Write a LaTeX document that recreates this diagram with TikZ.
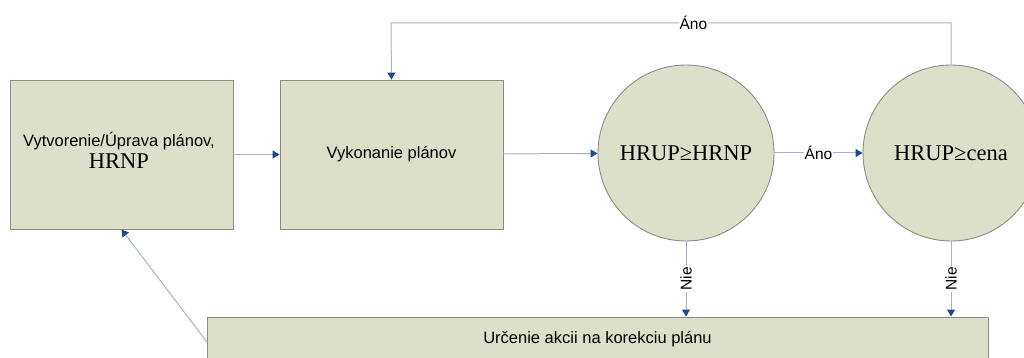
\documentclass[tikz,border=0pt]{standalone}
\usepackage{fontspec}
\setmainfont{Liberation Serif}
\setsansfont{Liberation Sans}
\usetikzlibrary{arrows.meta,positioning}
\definecolor{boxfill}{HTML}{DCE0CB}
\definecolor{boxline}{HTML}{8C8C84}
\definecolor{conn}{HTML}{A7B4C8}
\definecolor{tipblue}{HTML}{1F4A8A}
\tikzset{
  box/.style={draw=boxline, fill=boxfill, line width=0.9pt, inner sep=0pt, align=center},
  circ/.style={draw=boxline, fill=boxfill, line width=0.9pt, circle, inner sep=0pt, minimum size=176pt, font=\fontsize{22.5}{26}\selectfont},
  conn/.style={draw=conn, line width=1pt, -{Triangle[width=8pt,length=7pt,color=tipblue]}},
  lbl/.style={fill=white, inner sep=1pt, font=\sffamily\fontsize{15.5}{17}\selectfont},
  sans/.style={font=\sffamily\fontsize{16.5}{19}\selectfont},
}
\begin{document}
\begin{tikzpicture}[x=1pt,y=-1pt]
\useasboundingbox (0,0) rectangle (1024,358);
\node[box, minimum width=223pt, minimum height=149pt] (plan) at (121.5,154.5) {};
\node[sans, anchor=base] (plant1) at (119,147) {Vytvorenie/Úprava plánov,};
\node[font=\fontsize{22.5}{24}\selectfont, anchor=base] (plant2) at (119,168) {HRNP};
\node[box, sans, minimum width=223pt, minimum height=149pt] (exec) at (391.5,154.5) {Vykonanie plánov};
\node[circ] (c1) at (686,153) {HRUP≥HRNP};
\node[circ] (c2) at (951,153) {HRUP≥cena};
\node[box, sans, minimum width=781pt, minimum height=45pt] (corr) at (597.5,339.5) {Určenie akcii na korekciu plánu};
\coordinate (t1) at (951,23);
\coordinate (t2) at (391,23);
\draw[conn] (plan) -- (exec);
\draw[conn] (exec) -- (c1);
\draw[conn] (c1) -- node[lbl]{Áno} (c2);
\draw[conn] (c2.north) -- (t1) -- node[lbl, pos=0.46]{Áno} (t2) -- (exec.north);
\draw[conn] (c1.south) -- node[lbl, rotate=90]{Nie} (c1.south |- corr.north);
\draw[conn] (c2.south) -- node[lbl, rotate=90]{Nie} (c2.south |- corr.north);
\draw[conn] ([yshift=-2pt]corr.west) -- (plan.south);
\end{tikzpicture}
\end{document}
